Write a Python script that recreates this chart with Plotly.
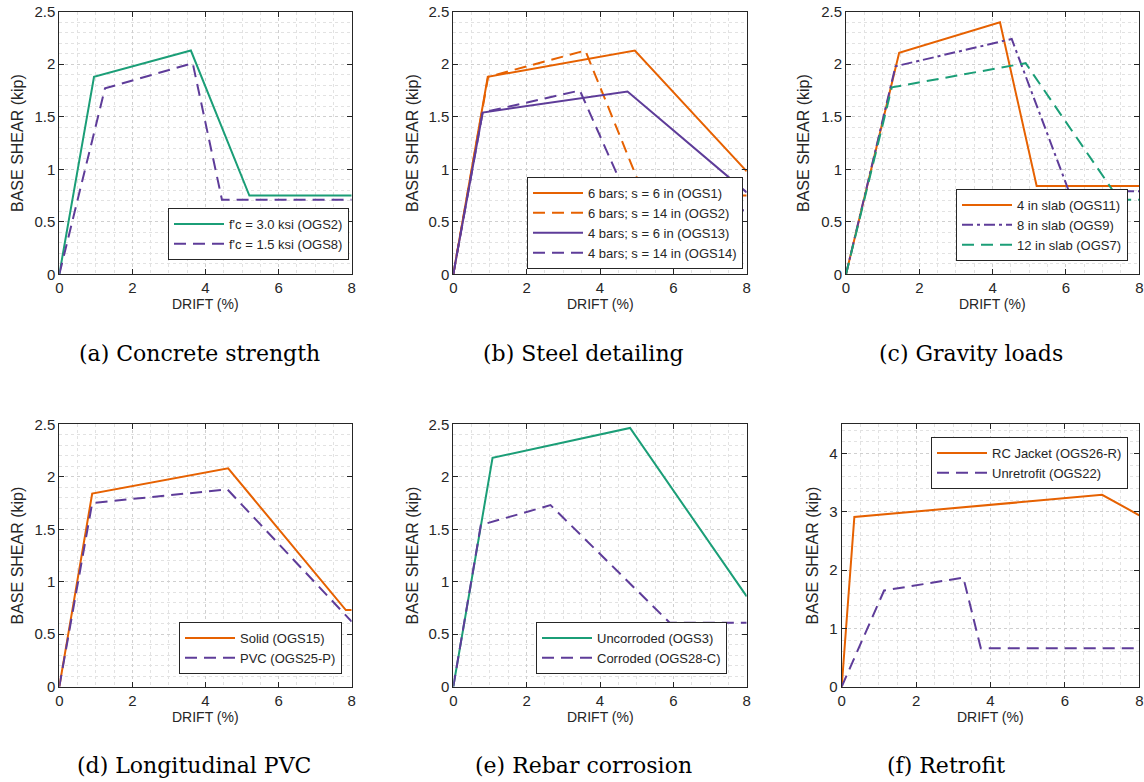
import plotly.graph_objects as go

ORANGE = "#E66101"
PURPLE = "#5E3C99"
GREEN = "#1B9E77"
DASH = "12px,7px"
DASHDOT = "11px,4px,3px,4px"

# (a) Concrete strength
a_ogs2_x = [0, 0.95, 3.6, 5.2, 8]
a_ogs2_y = [0, 1.88, 2.13, 0.75, 0.75]
a_ogs8_x = [0, 1.25, 3.65, 4.45, 8]
a_ogs8_y = [0, 1.77, 2.01, 0.71, 0.71]

# (b) Steel detailing
b_ogs1_x = [0, 0.94, 4.95, 8]
b_ogs1_y = [0, 1.88, 2.13, 0.98]
b_ogs2_x = [0, 0.95, 3.6, 5.2, 8]
b_ogs2_y = [0, 1.88, 2.13, 0.75, 0.75]
b_ogs13_x = [0, 0.8, 4.75, 8]
b_ogs13_y = [0, 1.54, 1.74, 0.78]
b_ogs14_x = [0, 0.8, 3.45, 4.9, 8]
b_ogs14_y = [0, 1.54, 1.75, 0.61, 0.61]

# (c) Gravity loads
c_ogs11_x = [0, 1.45, 4.2, 5.2, 8]
c_ogs11_y = [0, 2.11, 2.40, 0.84, 0.84]
c_ogs9_x = [0, 1.35, 4.52, 6.08, 8]
c_ogs9_y = [0, 1.98, 2.24, 0.79, 0.79]
c_ogs7_x = [0, 1.25, 4.9, 7.45, 8]
c_ogs7_y = [0, 1.78, 2.01, 0.71, 0.71]

# (d) Longitudinal PVC
d_ogs15_x = [0, 0.9, 4.62, 7.84, 8]
d_ogs15_y = [0, 1.84, 2.08, 0.73, 0.73]
d_ogs25_x = [0, 0.9, 4.6, 8]
d_ogs25_y = [0, 1.75, 1.88, 0.62]

# (e) Rebar corrosion
e_ogs3_x = [0, 1.07, 4.82, 8]
e_ogs3_y = [0, 2.18, 2.465, 0.86]
e_ogs28_x = [0, 0.75, 2.65, 5.9, 8]
e_ogs28_y = [0, 1.54, 1.73, 0.61, 0.61]

# (f) Retrofit
f_ogs26_x = [0, 0.34, 7.0, 8]
f_ogs26_y = [0, 2.91, 3.29, 2.94]
f_ogs22_x = [0, 1.14, 3.27, 3.74, 8]
f_ogs22_y = [0, 1.65, 1.87, 0.66, 0.66]

captions = ["(a) Concrete strength", "(b) Steel detailing", "(c) Gravity loads",
            "(d) Longitudinal PVC", "(e) Rebar corrosion", "(f) Retrofit"]

W, H = 1144, 782
def px_x(p):
    return p / W
def px_y(p):
    return (H - p) / H

# panel pixel boxes: (x0, x1, ytop, ybottom)
boxes = [
    (59.3, 351.7, 11.7, 274.3),
    (453.3, 746.7, 11.7, 274.3),
    (846.0, 1139.3, 11.7, 274.3),
    (59.3, 351.7, 424.3, 686.7),
    (453.3, 746.7, 424.3, 686.7),
    (841.7, 1139.3, 424.3, 686.7),
]

fig = go.Figure()

def add(panel, x, y, name, color, dash, legend):
    sfx = "" if panel == 1 else str(panel)
    fig.add_trace(go.Scatter(
        x=x, y=y, name=name, mode="lines",
        line=dict(color=color, width=2, dash=dash),
        xaxis="x" + sfx, yaxis="y" + sfx, legend=legend,
    ))

add(1, a_ogs2_x, a_ogs2_y, "f'c = 3.0 ksi (OGS2)", GREEN, "solid", "legend")
add(1, a_ogs8_x, a_ogs8_y, "f'c = 1.5 ksi (OGS8)", PURPLE, DASH, "legend")

add(2, b_ogs1_x, b_ogs1_y, "6 bars; s = 6 in (OGS1)", ORANGE, "solid", "legend2")
add(2, b_ogs2_x, b_ogs2_y, "6 bars; s = 14 in (OGS2)", ORANGE, DASH, "legend2")
add(2, b_ogs13_x, b_ogs13_y, "4 bars; s = 6 in (OGS13)", PURPLE, "solid", "legend2")
add(2, b_ogs14_x, b_ogs14_y, "4 bars; s = 14 in (OGS14)", PURPLE, DASH, "legend2")

add(3, c_ogs11_x, c_ogs11_y, "4 in slab (OGS11)", ORANGE, "solid", "legend3")
add(3, c_ogs9_x, c_ogs9_y, "8 in slab (OGS9)", PURPLE, DASHDOT, "legend3")
add(3, c_ogs7_x, c_ogs7_y, "12 in slab (OGS7)", GREEN, DASH, "legend3")

add(4, d_ogs15_x, d_ogs15_y, "Solid (OGS15)", ORANGE, "solid", "legend4")
add(4, d_ogs25_x, d_ogs25_y, "PVC (OGS25-P)", PURPLE, DASH, "legend4")

add(5, e_ogs3_x, e_ogs3_y, "Uncorroded (OGS3)", GREEN, "solid", "legend5")
add(5, e_ogs28_x, e_ogs28_y, "Corroded (OGS28-C)", PURPLE, DASH, "legend5")

add(6, f_ogs26_x, f_ogs26_y, "RC Jacket (OGS26-R)", ORANGE, "solid", "legend6")
add(6, f_ogs22_x, f_ogs22_y, "Unretrofit (OGS22)", PURPLE, DASH, "legend6")

AX = "#262626"
SANS = "Liberation Sans, Arial, sans-serif"
TICKFONT = dict(family=SANS, size=15, color=AX)

layout = dict(
    width=W, height=H,
    margin=dict(l=0, r=0, t=0, b=0, autoexpand=False),
    paper_bgcolor="white", plot_bgcolor="white",
    font=dict(family=SANS, color=AX),
    annotations=[],
)

for i, (x0, x1, yt, yb) in enumerate(boxes):
    n = i + 1
    sfx = "" if n == 1 else str(n)
    ymax = 4.5 if n == 6 else 2.5
    ydt = 1 if n == 6 else 0.5
    ymin_dt = 0.2 if n == 6 else 0.1
    common = dict(
        showline=True, linecolor=AX, linewidth=1, mirror="ticks",
        ticks="inside", ticklen=5, tickcolor=AX, tickwidth=1,
        tickfont=TICKFONT, zeroline=False, automargin=False,
        showgrid=True, gridcolor="#cfcfcf", griddash="dot", gridwidth=1,
    )
    layout["xaxis" + sfx] = dict(
        domain=[px_x(x0), px_x(x1)], anchor="y" + sfx,
        range=[0, 8], tick0=0, dtick=2,
        minor=dict(dtick=0.5, showgrid=True, gridcolor="#e2e2e2", griddash="dot", ticks=""),
        **common,
    )
    layout["yaxis" + sfx] = dict(
        domain=[px_y(yb), px_y(yt)], anchor="x" + sfx,
        range=[0, ymax], tick0=0, dtick=ydt,
        minor=dict(dtick=ymin_dt, showgrid=True, gridcolor="#e2e2e2", griddash="dot", ticks=""),
        **common,
    )

# legends: (right px, anchor px, yanchor)
leg_pos = [
    (349, 260, "bottom"),
    (743, 269, "bottom"),
    (1128, 261, "bottom"),
    (342, 674, "bottom"),
    (727, 674, "bottom"),
    (1128, 437, "top"),
]
for i, (xr, yp, ya) in enumerate(leg_pos):
    key = "legend" if i == 0 else "legend" + str(i + 1)
    layout[key] = dict(
        x=px_x(xr), y=px_y(yp), xanchor="right", yanchor=ya,
        xref="paper", yref="paper",
        bgcolor="white", bordercolor=AX, borderwidth=1,
        font=dict(family=SANS, size=13, color=AX),
        tracegroupgap=0, itemwidth=50,
    )

ytitle_x = [17, 412, 803, 17, 412, 812]
cap_x = [199, 583, 971, 194, 583, 946]
for i, (x0, x1, yt, yb) in enumerate(boxes):
    layout["annotations"].append(dict(
        text="BASE SHEAR (kip)", textangle=-90, showarrow=False,
        xref="paper", yref="paper", x=px_x(ytitle_x[i]), y=px_y((yt + yb) / 2),
        xanchor="center", yanchor="middle",
        font=dict(family=SANS, size=16, color=AX),
    ))
    layout["annotations"].append(dict(
        text="DRIFT (%)", showarrow=False,
        xref="paper", yref="paper", x=px_x((x0 + x1) / 2), y=px_y(yb + 30),
        xanchor="center", yanchor="middle",
        font=dict(family=SANS, size=14, color=AX),
    ))
    layout["annotations"].append(dict(
        text=captions[i], showarrow=False,
        xref="paper", yref="paper", x=px_x(cap_x[i]), y=px_y(yb + 79),
        xanchor="center", yanchor="middle",
        font=dict(family="DejaVu Serif, Liberation Serif, serif", size=22, color="black"),
    ))

fig.update_layout(**layout)
fig.write_html(
    "out.html",
    config=dict(displayModeBar=False),
    post_script="document.body.style.margin='0';document.body.style.overflow='hidden';",
)
